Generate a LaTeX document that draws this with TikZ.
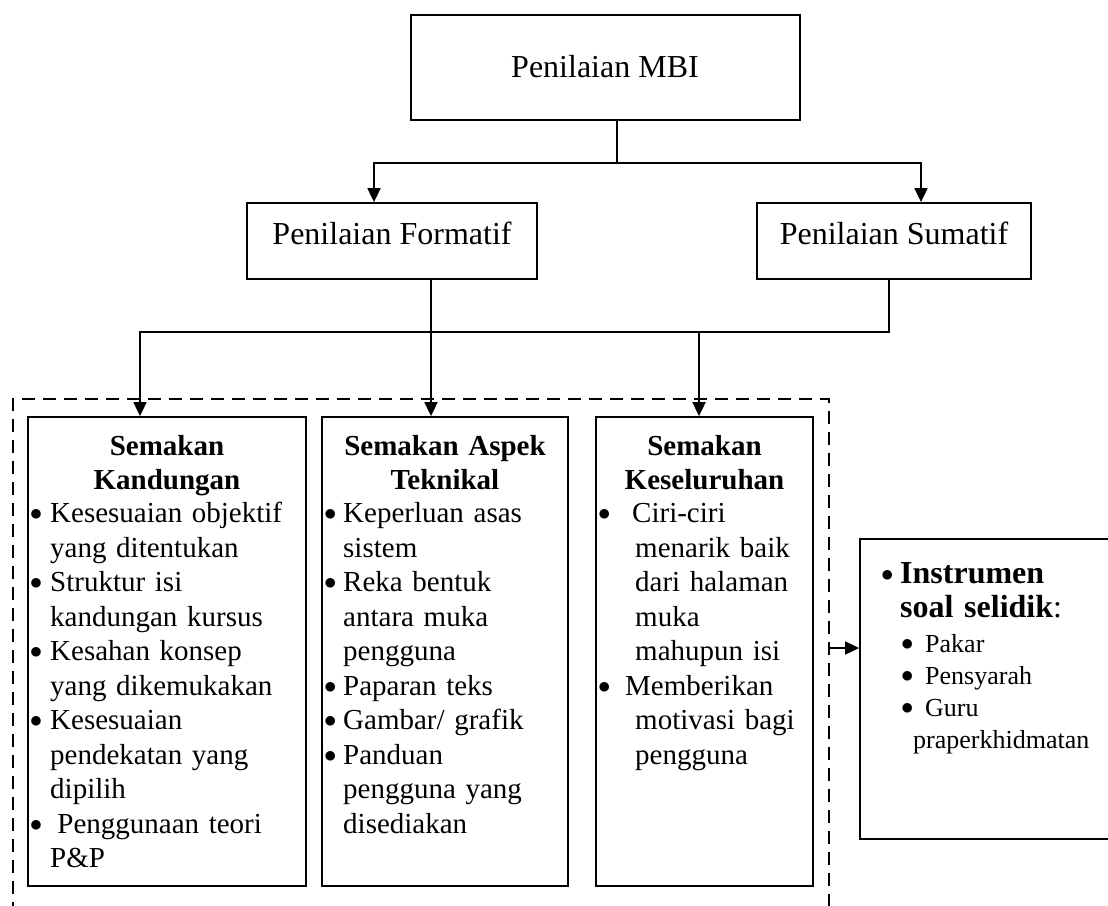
\documentclass[tikz,border=0pt]{standalone}
\usepackage{fontspec}
\setmainfont{Liberation Serif}
\usetikzlibrary{arrows.meta}

% bullet set in a box of fixed width, text follows
\newcommand\lbul[1]{\makebox[#1][l]{\raisebox{1.8pt}{$\bullet$}}}

\begin{document}
\begin{tikzpicture}[x=1pt,y=-1pt,
  box/.style={draw, line width=1.8pt, rectangle, inner sep=0pt},
  conn/.style={line width=1.8pt},
  arr/.style={conn, -{Triangle[length=14pt,width=13pt]}},
  frame/.style={line width=1.8pt, dash pattern=on 13pt off 8pt},
  toptext/.style={font=\fontsize{32}{38}\selectfont, inner sep=0pt, anchor=base},
  head/.style={font=\fontsize{29}{34.5}\selectfont\bfseries, align=center, text width=#1, inner sep=0pt, anchor=base},
  list/.style={font=\fontsize{29}{34.5}\selectfont, align=left, text width=#1, inner sep=0pt, anchor=base west},
]
\useasboundingbox (0,0) rectangle (1108,905);

% boxes
\node[box, minimum width=389pt, minimum height=105pt] (mbi) at (605.5,67.5) {};
\node[box, minimum width=290pt, minimum height=76pt] (form) at (392,241) {};
\node[box, minimum width=274pt, minimum height=76pt] (sum) at (894,241) {};
\node[box, minimum width=278pt, minimum height=469pt] (sk1) at (167,651.5) {};
\node[box, minimum width=246pt, minimum height=469pt] (sk2) at (445,651.5) {};
\node[box, minimum width=217pt, minimum height=469pt] (sk3) at (704.5,651.5) {};
\node[box, minimum width=256pt, minimum height=300pt] (inst) at (988,689) {};

% titles of the upper boxes
\node[toptext] (mbi-t) at (605,77) {Penilaian MBI};
\node[toptext] (form-t) at (392,244) {Penilaian Formatif};
\node[toptext] (sum-t) at (894,244) {Penilaian Sumatif};

% first level connectors
\coordinate (j0) at (617,163);
\coordinate (ja) at (374,163);
\coordinate (jb) at (921,163);
\draw[conn] (mbi.south -| j0) -- (j0);
\draw[arr] (j0) -- (ja) -- (ja |- form.north);
\draw[arr] (j0) -- (jb) -- (jb |- sum.north);

% second level connectors
\coordinate (fx) at (431,0);
\draw[arr] (fx |- form.south) -- (fx |- sk2.north);
\coordinate (jc) at (889,332);
\coordinate (jd) at (140,332);
\coordinate (je) at (699,332);
\draw[arr] (sum.south -| jc) -- (jc) -- (jd) -- (jd |- sk1.north);
\draw[arr] (je) -- (je |- sk3.north);

% dashed frame around the three review boxes
\coordinate (flb) at (13,915);
\coordinate (fl) at (13,399);
\coordinate (fr) at (829,399);
\coordinate (frb) at (829,915);
\draw[frame] (flb) -- (fl) -- (fr) -- (frb);
\coordinate (fo) at (829,648);
\draw[arr] (fo) -- (fo -| inst.west);

% box contents
\node[head=270pt] (sk1-h) at (167,455) {Semakan\\Kandungan};
\node[list=275pt] (sk1-l) at (29.7,522.5) {%
\lbul{20.3pt}Kesesuaian objektif\\
\hspace*{20.3pt}yang ditentukan\\
\lbul{20.3pt}Struktur isi\\
\hspace*{20.3pt}kandungan kursus\\
\lbul{20.3pt}Kesahan konsep\\
\hspace*{20.3pt}yang dikemukakan\\
\lbul{20.3pt}Kesesuaian\\
\hspace*{20.3pt}pendekatan yang\\
\hspace*{20.3pt}dipilih\\
\lbul{27.5pt}Penggunaan teori\\
\hspace*{20.3pt}P\&P};

\node[head=240pt] (sk2-h) at (445,455) {Semakan Aspek\\Teknikal};
\node[list=240pt] (sk2-l) at (324,522.5) {%
\lbul{19pt}Keperluan asas\\
\hspace*{19pt}sistem\\
\lbul{19pt}Reka bentuk\\
\hspace*{19pt}antara muka\\
\hspace*{19pt}pengguna\\
\lbul{19pt}Paparan teks\\
\lbul{19pt}Gambar/ grafik\\
\lbul{19pt}Panduan\\
\hspace*{19pt}pengguna yang\\
\hspace*{19pt}disediakan};

\node[head=212pt] (sk3-h) at (704.5,455) {Semakan\\Keseluruhan};
\node[list=212pt] (sk3-l) at (598,522.5) {%
\lbul{34pt}Ciri-ciri\\
\hspace*{37pt}menarik baik\\
\hspace*{37pt}dari halaman\\
\hspace*{37pt}muka\\
\hspace*{37pt}mahupun isi\\
\lbul{27pt}Memberikan\\
\hspace*{37pt}motivasi bagi\\
\hspace*{37pt}pengguna};

\node[font=\fontsize{32}{34}\selectfont\bfseries, align=left, text width=215pt, inner sep=0pt, anchor=base west]
  (inst-h) at (881,583) {%
\lbul{19pt}Instrumen\\
\hspace*{19pt}soal selidik{\mdseries :}};
\node[font=\fontsize{26}{32}\selectfont, align=left, text width=200pt, inner sep=0pt, anchor=base west]
  (inst-l) at (901,652) {%
\lbul{24pt}Pakar\\
\lbul{24pt}Pensyarah\\
\lbul{24pt}Guru\\
\hspace*{12pt}praperkhidmatan};
\end{tikzpicture}
\end{document}
